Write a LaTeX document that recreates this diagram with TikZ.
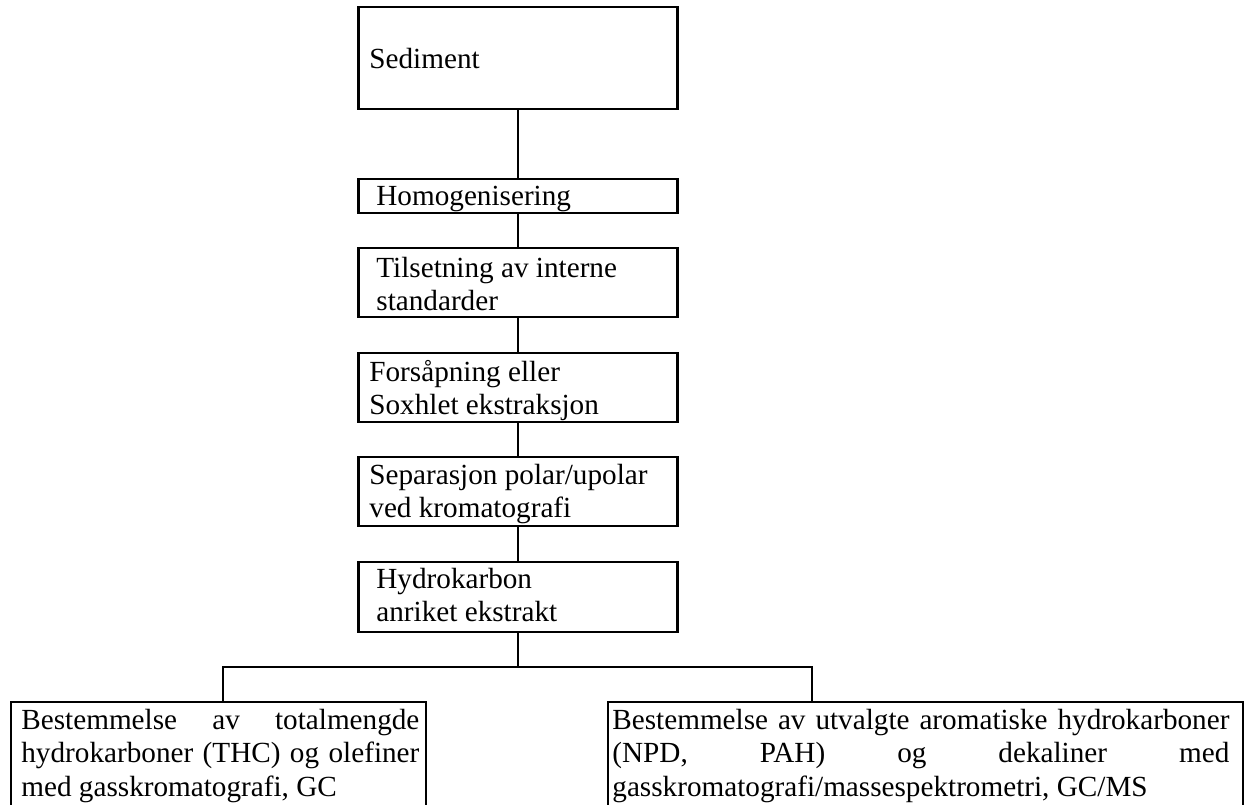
\documentclass[tikz,border=0pt]{standalone}
\usepackage{fontspec}
\setmainfont{Liberation Serif}
\newcommand{\jline}[2]{\leavevmode\hbox to #1{#2}}
\begin{document}
\begin{tikzpicture}[x=0.5pt,y=-0.5pt]
\tikzset{
  box/.style={draw, line width=1.1pt, inner sep=0pt, outer sep=0pt, anchor=north west},
  txt/.style={anchor=base west, inner sep=0pt, align=flush left,
    font=\fontsize{14.6}{16.75}\selectfont,
    execute at begin node={\spaceskip=0pt\xspaceskip=0pt}},
  link/.style={line width=1.1pt}
}
\path[use as bounding box, clip] (0,0) rectangle (1253,804);
% boxes
\node[box, minimum width=159.5pt, minimum height=51pt]   (sed) at (358.5,7)   {};
\node[box, minimum width=159.5pt, minimum height=17pt]   (hom) at (358.5,179) {};
\node[box, minimum width=159.5pt, minimum height=34.5pt] (til) at (358.5,248) {};
\node[box, minimum width=159.5pt, minimum height=34.5pt] (for) at (358.5,353) {};
\node[box, minimum width=159.5pt, minimum height=34.5pt] (sep) at (358.5,457) {};
\node[box, minimum width=159.5pt, minimum height=35pt]   (hyd) at (358.5,562) {};
\node[box, minimum width=207.5pt, minimum height=65pt]   (bl)  at (11,702)  {};
\node[box, minimum width=317.5pt, minimum height=65pt]   (br)  at (608,702) {};
% texts
\node[txt, text width=150pt] (tsed) at (369,68)  {Sediment};
\node[txt, text width=150pt] (thom) at (376,205) {Homogenisering};
\node[txt, text width=150pt] (ttil) at (376,277) {Tilsetning av interne\\standarder};
\node[txt, text width=150pt] (tfor) at (369,381) {Forsåpning eller\\Soxhlet ekstraksjon};
\node[txt, text width=152pt] (tsep) at (369,484) {Separasjon polar/upolar\\ved kromatografi};
\node[txt, text width=150pt] (thyd) at (376,588) {Hydrokarbon\\anriket ekstrakt};
\node[txt, text width=199pt] (tbl) at (21,729)
  {\jline{199pt}{Bestemmelse\hfill av\hfill totalmengde}\\
   \jline{199pt}{hydrokarboner\hfill (THC)\hfill og\hfill olefiner}\\
   med gasskromatografi, GC};
\node[txt, text width=308.5pt] (tbr) at (612,729)
  {\jline{308.5pt}{Bestemmelse\hfill av\hfill utvalgte\hfill aromatiske\hfill hydrokarboner}\\
   \jline{308.5pt}{(NPD,\hfill PAH)\hfill og\hfill dekaliner\hfill med}\\
   gasskromatografi/massespektrometri, GC/MS};
% connectors
\coordinate (jl) at (223,667);
\coordinate (jr) at (812,667);
\draw[link] (sed.south) -- (hom.north);
\draw[link] (hom.south) -- (til.north);
\draw[link] (til.south) -- (for.north);
\draw[link] (for.south) -- (sep.north);
\draw[link] (sep.south) -- (hyd.north);
\draw[link] (hyd.south) -- (hyd.south |- jl);
\draw[link] (jl |- bl.north) -- (jl) -- (jr) -- (jr |- br.north);
\end{tikzpicture}
\end{document}
